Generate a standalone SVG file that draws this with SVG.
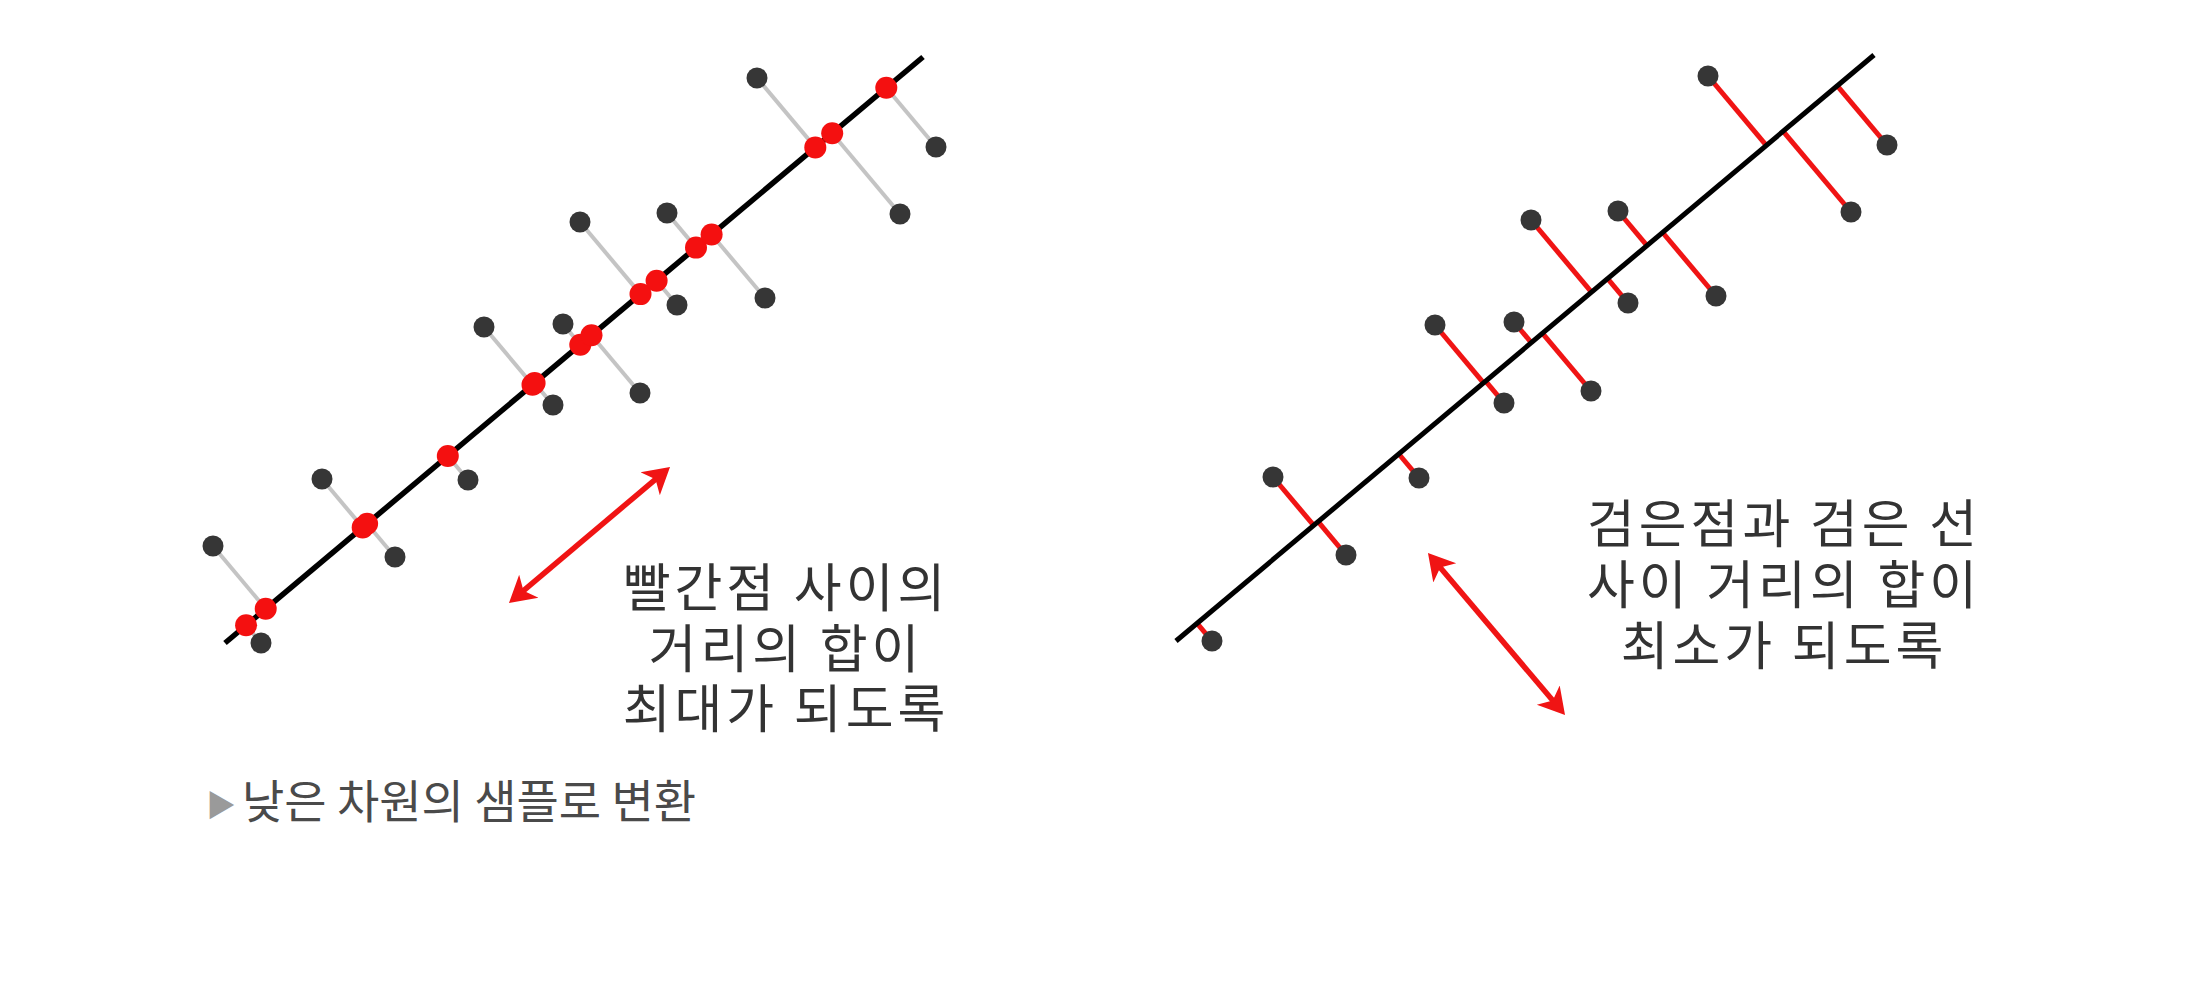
<svg xmlns="http://www.w3.org/2000/svg" width="2209" height="1000" viewBox="0 0 2209 1000">
  <style>
    .axis { stroke: #000; stroke-width: 5.5; stroke-linecap: butt; fill: none; }
    .proj-gray { stroke: #c4c4c4; stroke-width: 4; fill: none; }
    .proj-red { stroke: #f01414; stroke-width: 5; fill: none; }
    .pt { fill: #363636; }
    .rpt { fill: #f41010; }
    .arrow { stroke: #f01414; stroke-width: 5.5; fill: none; marker-start: url(#head); marker-end: url(#head); }
    .label { font-family: "Noto Sans CJK KR", "Noto Sans", sans-serif; font-size: 52px; letter-spacing: 4px; fill: #333; text-anchor: middle; }
    .caption { font-family: "Noto Sans CJK KR", "Noto Sans", sans-serif; font-size: 46px; fill: #4a4a4a; }
  </style>
  <defs>
    <marker id="head" markerUnits="userSpaceOnUse" markerWidth="30" markerHeight="32" viewBox="0 0 30 32" refX="10" refY="16" orient="auto-start-reverse">
      <path d="M0,1 L26,16 L0,31 L7,16 Z" fill="#f01414"/>
    </marker>
  </defs>
  <rect x="0" y="0" width="2209" height="1000" fill="#fff"/>

  <g id="left-panel">
    <g id="left-projections">
      <line class="proj-gray" x1="213" y1="546" x2="265.7" y2="608.8"/>
      <line class="proj-gray" x1="261" y1="643" x2="246.1" y2="625.3"/>
      <line class="proj-gray" x1="322" y1="479" x2="362.7" y2="527.4"/>
      <line class="proj-gray" x1="395" y1="557" x2="367.1" y2="523.7"/>
      <line class="proj-gray" x1="468" y1="480" x2="447.8" y2="456.0"/>
      <line class="proj-gray" x1="484" y1="327" x2="532.5" y2="384.8"/>
      <line class="proj-gray" x1="553" y1="405" x2="534.6" y2="383.1"/>
      <line class="proj-gray" x1="563" y1="324" x2="580.3" y2="344.7"/>
      <line class="proj-gray" x1="640" y1="393" x2="591.5" y2="335.3"/>
      <line class="proj-gray" x1="580" y1="222" x2="640.5" y2="294.1"/>
      <line class="proj-gray" x1="677" y1="305" x2="656.6" y2="280.7"/>
      <line class="proj-gray" x1="667" y1="213" x2="696.0" y2="247.6"/>
      <line class="proj-gray" x1="765" y1="298" x2="711.6" y2="234.5"/>
      <line class="proj-gray" x1="757" y1="78" x2="815.3" y2="147.4"/>
      <line class="proj-gray" x1="900" y1="214" x2="832.2" y2="133.3"/>
      <line class="proj-gray" x1="936" y1="147" x2="886.3" y2="87.8"/>
    </g>
    <g id="left-axis">
      <line class="axis" x1="225" y1="643" x2="923" y2="57"/>
    </g>
    <g id="left-samples">
      <circle class="pt" cx="213" cy="546" r="10.5"/>
      <circle class="pt" cx="261" cy="643" r="10.5"/>
      <circle class="pt" cx="322" cy="479" r="10.5"/>
      <circle class="pt" cx="395" cy="557" r="10.5"/>
      <circle class="pt" cx="468" cy="480" r="10.5"/>
      <circle class="pt" cx="484" cy="327" r="10.5"/>
      <circle class="pt" cx="553" cy="405" r="10.5"/>
      <circle class="pt" cx="563" cy="324" r="10.5"/>
      <circle class="pt" cx="640" cy="393" r="10.5"/>
      <circle class="pt" cx="580" cy="222" r="10.5"/>
      <circle class="pt" cx="677" cy="305" r="10.5"/>
      <circle class="pt" cx="667" cy="213" r="10.5"/>
      <circle class="pt" cx="765" cy="298" r="10.5"/>
      <circle class="pt" cx="757" cy="78" r="10.5"/>
      <circle class="pt" cx="900" cy="214" r="10.5"/>
      <circle class="pt" cx="936" cy="147" r="10.5"/>
    </g>
    <g id="left-projected-points">
      <circle class="rpt" cx="265.7" cy="608.8" r="11"/>
      <circle class="rpt" cx="246.1" cy="625.3" r="11"/>
      <circle class="rpt" cx="362.7" cy="527.4" r="11"/>
      <circle class="rpt" cx="367.1" cy="523.7" r="11"/>
      <circle class="rpt" cx="447.8" cy="456.0" r="11"/>
      <circle class="rpt" cx="532.5" cy="384.8" r="11"/>
      <circle class="rpt" cx="534.6" cy="383.1" r="11"/>
      <circle class="rpt" cx="580.3" cy="344.7" r="11"/>
      <circle class="rpt" cx="591.5" cy="335.3" r="11"/>
      <circle class="rpt" cx="640.5" cy="294.1" r="11"/>
      <circle class="rpt" cx="656.6" cy="280.7" r="11"/>
      <circle class="rpt" cx="696.0" cy="247.6" r="11"/>
      <circle class="rpt" cx="711.6" cy="234.5" r="11"/>
      <circle class="rpt" cx="815.3" cy="147.4" r="11"/>
      <circle class="rpt" cx="832.2" cy="133.3" r="11"/>
      <circle class="rpt" cx="886.3" cy="87.8" r="11"/>
    </g>
    <g id="left-arrow">
      <line class="arrow" x1="521.2" y1="592.7" x2="657.8" y2="477.3"/>
    </g>
    <g id="left-label">
      <text class="label" x="786" y="607">빨간점 사이의</text>
      <text class="label" x="786" y="668">거리의 합이</text>
      <text class="label" x="786" y="728">최대가 되도록</text>
    </g>
  </g>

  <g id="right-panel">
    <g id="right-projections">
      <line class="proj-red" x1="1212" y1="641" x2="1197.1" y2="623.3"/>
      <line class="proj-red" x1="1273" y1="477" x2="1313.7" y2="525.4"/>
      <line class="proj-red" x1="1346" y1="555" x2="1318.1" y2="521.7"/>
      <line class="proj-red" x1="1419" y1="478" x2="1398.8" y2="454.0"/>
      <line class="proj-red" x1="1435" y1="325" x2="1483.5" y2="382.8"/>
      <line class="proj-red" x1="1504" y1="403" x2="1485.6" y2="381.1"/>
      <line class="proj-red" x1="1514" y1="322" x2="1531.3" y2="342.7"/>
      <line class="proj-red" x1="1591" y1="391" x2="1542.5" y2="333.3"/>
      <line class="proj-red" x1="1531" y1="220" x2="1591.5" y2="292.1"/>
      <line class="proj-red" x1="1628" y1="303" x2="1607.6" y2="278.7"/>
      <line class="proj-red" x1="1618" y1="211" x2="1647.0" y2="245.6"/>
      <line class="proj-red" x1="1716" y1="296" x2="1662.6" y2="232.5"/>
      <line class="proj-red" x1="1708" y1="76" x2="1766.3" y2="145.4"/>
      <line class="proj-red" x1="1851" y1="212" x2="1783.2" y2="131.3"/>
      <line class="proj-red" x1="1887" y1="145" x2="1837.3" y2="85.8"/>
    </g>
    <g id="right-axis">
      <line class="axis" x1="1176" y1="641" x2="1874" y2="55" style="stroke-width:5"/>
    </g>
    <g id="right-samples">
      <circle class="pt" cx="1212" cy="641" r="10.5"/>
      <circle class="pt" cx="1273" cy="477" r="10.5"/>
      <circle class="pt" cx="1346" cy="555" r="10.5"/>
      <circle class="pt" cx="1419" cy="478" r="10.5"/>
      <circle class="pt" cx="1435" cy="325" r="10.5"/>
      <circle class="pt" cx="1504" cy="403" r="10.5"/>
      <circle class="pt" cx="1514" cy="322" r="10.5"/>
      <circle class="pt" cx="1591" cy="391" r="10.5"/>
      <circle class="pt" cx="1531" cy="220" r="10.5"/>
      <circle class="pt" cx="1628" cy="303" r="10.5"/>
      <circle class="pt" cx="1618" cy="211" r="10.5"/>
      <circle class="pt" cx="1716" cy="296" r="10.5"/>
      <circle class="pt" cx="1708" cy="76" r="10.5"/>
      <circle class="pt" cx="1851" cy="212" r="10.5"/>
      <circle class="pt" cx="1887" cy="145" r="10.5"/>
    </g>
    <g id="right-arrow">
      <line class="arrow" x1="1438.3" y1="565.2" x2="1554.7" y2="702.8"/>
    </g>
    <g id="right-label">
      <text class="label" x="1784" y="543">검은점과 검은 선</text>
      <text class="label" x="1784" y="604">사이 거리의 합이</text>
      <text class="label" x="1784" y="665">최소가 되도록</text>
    </g>
  </g>

  <g id="caption">
    <text class="caption" x="206" y="818"><tspan fill="#9a9a9a" font-size="30" dy="-2">▶</tspan><tspan x="242" dy="2">낮은 차원의 샘플로 변환</tspan></text>
  </g>
</svg>
